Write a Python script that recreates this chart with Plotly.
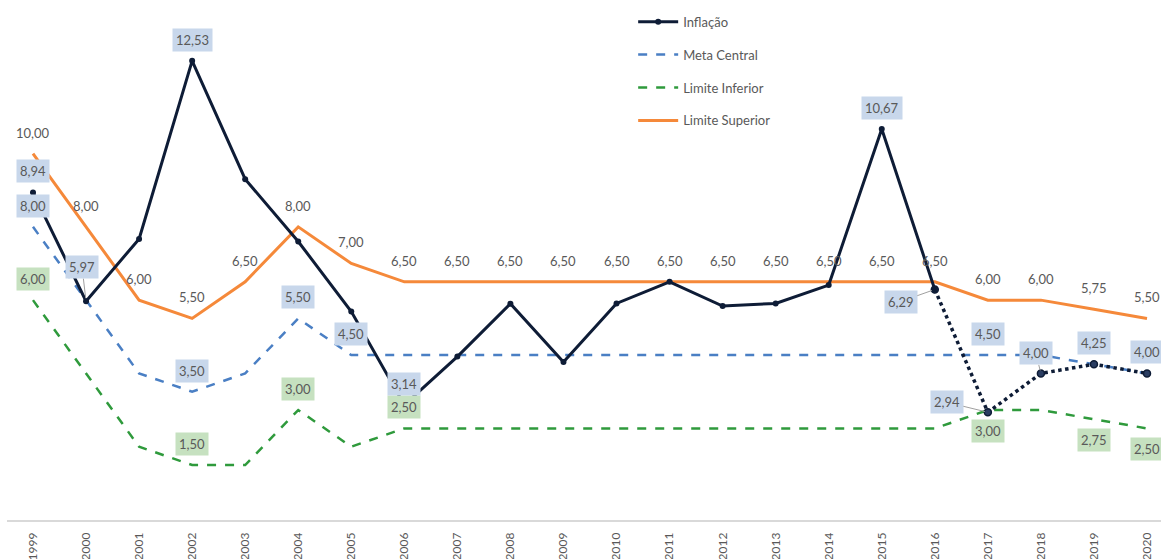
import plotly.graph_objects as go

years = list(range(1999, 2021))
year_labels = [str(y) for y in years]

inflacao = [8.94, 5.97, 7.67, 12.53, 9.30, 7.60, 5.69, 3.14, 4.46, 5.90, 4.31,
            5.91, 6.50, 5.84, 5.91, 6.41, 10.67, 6.29, 2.94, 4.00, 4.25, 4.00]
meta_central = [8.00, 6.00, 4.00, 3.50, 4.00, 5.50, 4.50, 4.50, 4.50, 4.50, 4.50,
                4.50, 4.50, 4.50, 4.50, 4.50, 4.50, 4.50, 4.50, 4.50, 4.25, 4.00]
limite_inferior = [6.00, 4.00, 2.00, 1.50, 1.50, 3.00, 2.00, 2.50, 2.50, 2.50, 2.50,
                   2.50, 2.50, 2.50, 2.50, 2.50, 2.50, 2.50, 3.00, 3.00, 2.75, 2.50]
limite_superior = [10.00, 8.00, 6.00, 5.50, 6.50, 8.00, 7.00, 6.50, 6.50, 6.50, 6.50,
                   6.50, 6.50, 6.50, 6.50, 6.50, 6.50, 6.50, 6.00, 6.00, 5.75, 5.50]

# which years carry a data label
inflacao_label_years = [1999, 2000, 2002, 2006, 2015, 2016, 2017, 2018]
meta_label_years = [1999, 2002, 2004, 2005, 2017, 2019, 2020]
inferior_label_years = [1999, 2002, 2004, 2006, 2017, 2019, 2020]
superior_label_years = years

FONT = "Lato"
TXT = "#595959"
NAVY = "#0e1c36"
BLUE = "#4a7fc4"
GREEN = "#2f9a3c"
ORANGE = "#f5893a"
BLUE_BG = "#c8d7eb"
GREEN_BG = "#c6e1c0"

fig = go.Figure()

fig.add_trace(go.Scatter(x=years, y=limite_superior, mode="lines", name="Limite Superior",
                         line=dict(color=ORANGE, width=3), legendrank=4))
fig.add_trace(go.Scatter(x=years, y=limite_inferior, mode="lines", name="Limite Inferior",
                         line=dict(color=GREEN, width=2.5, dash="dash"), legendrank=3))
fig.add_trace(go.Scatter(x=years, y=meta_central, mode="lines", name="Meta Central",
                         line=dict(color=BLUE, width=2.5, dash="dash"), legendrank=2))

split = years.index(2016)
fig.add_trace(go.Scatter(x=years[split:], y=inflacao[split:], mode="lines+markers",
                         showlegend=False,
                         line=dict(color=NAVY, width=3.5, dash="dot"),
                         marker=dict(size=7, color="#2a3d62", line=dict(color=NAVY, width=1.5))))
fig.add_trace(go.Scatter(x=years[:split + 1], y=inflacao[:split + 1], mode="lines+markers",
                         name="Inflação", legendrank=1,
                         line=dict(color=NAVY, width=3),
                         marker=dict(size=6, color=NAVY)))


def fmt(v):
    return f"{v:.2f}".replace(".", ",")


annotations = []


def add_label(x, y, bg=None, yshift=0, arrow=None):
    a = dict(x=x, y=y, xref="x", yref="y", text=fmt(y),
             font=dict(family=FONT, size=13, color=TXT), borderpad=3)
    if bg:
        a["bgcolor"] = bg
    if arrow:
        a.update(showarrow=True, ax=arrow[0], ay=arrow[1], axref="pixel", ayref="pixel",
                 arrowhead=0, arrowwidth=1, arrowcolor="#a0a0a0", standoff=3)
    else:
        a.update(showarrow=False, yshift=yshift)
    annotations.append(a)


for yr in superior_label_years:
    add_label(yr, limite_superior[years.index(yr)], yshift=21)
for yr in meta_label_years:
    add_label(yr, meta_central[years.index(yr)], bg=BLUE_BG, yshift=21)
below = {2017, 2019, 2020}
for yr in inferior_label_years:
    add_label(yr, limite_inferior[years.index(yr)], bg=GREEN_BG,
              yshift=-21 if yr in below else 21)
arrow_offsets = {2000: (-4, -34), 2016: (-34, 12), 2017: (-41, -10), 2018: (-5, -20)}
for yr in inflacao_label_years:
    add_label(yr, inflacao[years.index(yr)], bg=BLUE_BG, yshift=21,
              arrow=arrow_offsets.get(yr))

fig.update_layout(
    width=1161, height=559,
    margin=dict(l=7, r=0, t=0, b=39),
    plot_bgcolor="white", paper_bgcolor="white",
    font=dict(family=FONT, color=TXT),
    showlegend=True,
    legend=dict(x=0.5426, y=0.987, xanchor="left", yanchor="top",
                bgcolor="rgba(0,0,0,0)", tracegroupgap=13,
                font=dict(family=FONT, size=13, color=TXT), itemwidth=40),
    annotations=annotations,
)
for i, tr in enumerate(fig.data):
    tr.legendgroup = f"g{i}"

fig.update_xaxes(range=[1998.51, 2020.264], tickmode="array", tickvals=years,
                 ticktext=year_labels, tickangle=-90, showgrid=False, zeroline=False,
                 showline=True, linecolor="#d9d9d9", linewidth=1.5, ticks="",
                 tickfont=dict(family=FONT, size=12, color=TXT), ticklabelstandoff=6)
fig.update_yaxes(range=[0, 14.19], visible=False, showgrid=False, zeroline=False)

fig.write_html("out.html")
